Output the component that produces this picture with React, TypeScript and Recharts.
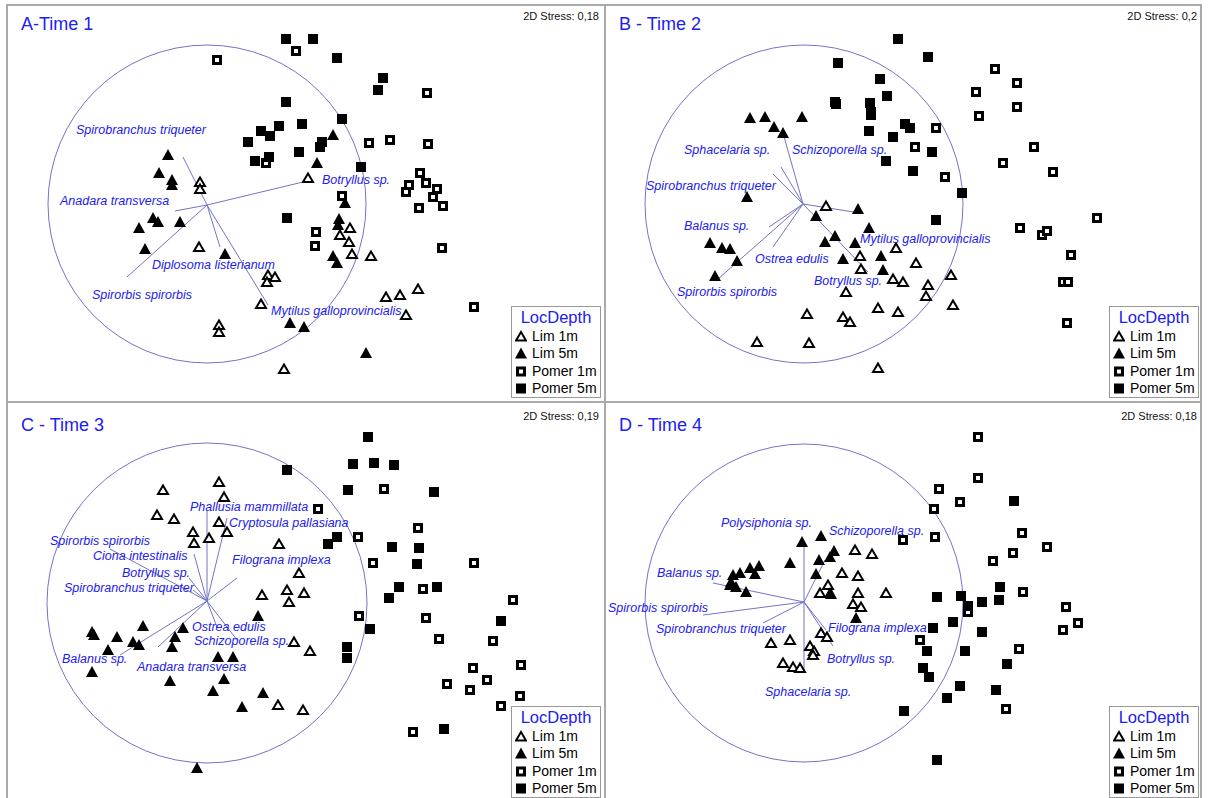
import { ScatterChart, Scatter, XAxis, YAxis, ReferenceLine, ReferenceDot } from "recharts";

type Pt = [number, number];

const groups = ["Lim 1m", "Lim 5m", "Pomer 1m", "Pomer 5m"];
const titles = ["A-Time 1", "B - Time 2", "C - Time 3", "D - Time 4"];
const stress = ["0,18", "0,2", "0,19", "0,18"];

// Time 1
const limOneA: Pt[] = [[200,182],[200,189],[199,247],[268,275],[275,277],[267,282],[261,304],[219,325],[219,332],[284,369],[308,178],[350,228],[340,235],[349,242],[352,254],[371,256],[386,297],[400,295],[418,289],[406,315]];
const limFiveA: Pt[] = [[168,155],[159,173],[172,180],[172,185],[153,218],[158,222],[180,222],[139,228],[145,249],[225,254],[290,323],[333,135],[317,163],[345,203],[339,219],[338,225],[333,256],[337,263],[304,327],[366,353]];
const pomerOneA: Pt[] = [[217,60],[296,51],[266,163],[427,93],[369,143],[390,140],[428,144],[420,173],[409,185],[426,183],[437,189],[406,192],[433,197],[443,206],[419,208],[342,196],[316,232],[315,246],[442,248],[474,307]];
const pomerFiveA: Pt[] = [[286,39],[313,39],[337,58],[383,78],[378,90],[286,102],[342,119],[279,126],[302,124],[261,131],[270,136],[248,142],[322,142],[320,147],[299,152],[255,161],[269,157],[361,167],[287,218]];
const vectorsA = [
  { sp: "Spirobranchus triqueter", x: 183, y: 157, lx: 76, ly: 130 },
  { sp: "Anadara transversa", x: 175, y: 211, lx: 60, ly: 201 },
  { sp: "Diplosoma listerianum", x: 220, y: 247, lx: 152, ly: 265 },
  { sp: "Spirorbis spirorbis", x: 127, y: 277, lx: 92, ly: 295 },
  { sp: "Mytilus galloprovincialis", x: 268, y: 305, lx: 271, ly: 311 },
  { sp: "Botryllus sp.", x: 303, y: 182, lx: 322, ly: 180 },
];

// Time 2
const limOneB: Pt[] = [[826,206],[896,248],[860,256],[916,263],[861,269],[893,279],[903,282],[928,285],[926,296],[846,292],[807,314],[843,317],[850,322],[878,308],[898,312],[757,342],[809,343],[878,368],[951,275],[953,305]];
const limFiveB: Pt[] = [[750,118],[765,117],[774,127],[783,133],[802,117],[747,197],[816,216],[858,209],[869,228],[835,236],[825,242],[855,243],[710,243],[722,248],[730,249],[737,261],[843,259],[881,256],[883,270],[715,276]];
const pomerOneB: Pt[] = [[915,147],[936,128],[945,177],[995,69],[976,92],[1017,83],[979,116],[1017,107],[1034,147],[1003,163],[1053,172],[1097,218],[1020,228],[1042,235],[1047,231],[1071,255],[1063,282],[1068,282],[1067,323]];
const pomerFiveB: Pt[] = [[898,39],[928,57],[838,63],[880,79],[887,96],[835,102],[836,104],[870,103],[871,112],[871,115],[869,131],[905,124],[910,128],[893,137],[886,161],[913,171],[932,152],[962,193],[936,220]];
const vectorsB = [
  { sp: "Sphacelaria sp.", x: 781, y: 167, lx: 684, ly: 150 },
  { sp: "Schizoporella sp.", x: 783, y: 133, lx: 792, ly: 150 },
  { sp: "Spirobranchus triqueter", x: 773, y: 174, lx: 646, ly: 186 },
  { sp: "Balanus sp.", x: 769, y: 227, lx: 684, ly: 226 },
  { sp: "Ostrea edulis", x: 773, y: 247, lx: 755, ly: 259 },
  { sp: "Spirorbis spirorbis", x: 718, y: 279, lx: 677, ly: 292 },
  { sp: "Mytilus galloprovincialis", x: 860, y: 213, lx: 860, ly: 239 },
  { sp: "Botryllus sp.", x: 868, y: 272, lx: 814, ly: 281 },
];

// Time 3
const limOneC: Pt[] = [[219,482],[163,490],[224,497],[157,515],[174,519],[219,522],[193,532],[194,543],[209,538],[227,532],[279,544],[299,573],[262,595],[287,590],[304,593],[289,602],[294,642],[310,651],[278,705],[303,710]];
const limFiveC: Pt[] = [[92,632],[94,635],[117,637],[143,626],[133,642],[139,645],[108,650],[92,672],[183,628],[175,637],[172,647],[258,616],[218,657],[233,657],[170,681],[224,679],[213,691],[263,693],[242,707],[197,768]];
const pomerOneC: Pt[] = [[318,509],[384,489],[358,537],[418,528],[373,563],[474,563],[423,589],[513,600],[359,616],[426,618],[439,639],[493,641],[521,665],[473,668],[487,680],[447,684],[470,690],[520,696],[501,706],[413,732]];
const pomerFiveC: Pt[] = [[287,470],[368,437],[353,464],[374,463],[394,465],[348,490],[434,492],[337,537],[328,544],[392,547],[419,548],[417,564],[399,587],[437,587],[389,598],[370,629],[501,621],[347,647],[347,658],[444,729]];
const vectorsC = [
  { sp: "Phallusia mammillata", x: 207, y: 510, lx: 190, ly: 507 },
  { sp: "Cryptosula pallasiana", x: 227, y: 518, lx: 229, ly: 523 },
  { sp: "Spirorbis spirorbis", x: 110, y: 549, lx: 50, ly: 541 },
  { sp: "Ciona intestinalis", x: 194, y: 554, lx: 93, ly: 556 },
  { sp: "Filograna implexa", x: 237, y: 578, lx: 232, ly: 560 },
  { sp: "Botryllus sp.", x: 189, y: 578, lx: 122, ly: 573 },
  { sp: "Spirobranchus triqueter", x: 193, y: 590, lx: 64, ly: 588 },
  { sp: "Ostrea edulis", x: 217, y: 627, lx: 192, ly: 627 },
  { sp: "Schizoporella sp.", x: 237, y: 640, lx: 194, ly: 641 },
  { sp: "Balanus sp.", x: 120, y: 655, lx: 62, ly: 659 },
  { sp: "Anadara transversa", x: 158, y: 647, lx: 137, ly: 667 },
];

// Time 4
const limOneD: Pt[] = [[855,550],[872,554],[842,573],[858,576],[828,585],[820,593],[858,593],[886,593],[853,604],[861,607],[821,633],[827,637],[771,643],[790,640],[810,646],[814,651],[813,655],[783,663],[793,667],[800,668]];
const limFiveD: Pt[] = [[821,536],[802,542],[834,551],[830,557],[819,560],[790,563],[759,566],[750,568],[755,574],[740,573],[733,575],[731,582],[736,587],[746,592],[816,574],[830,593],[831,594],[856,618],[730,585]];
const pomerOneD: Pt[] = [[978,437],[978,478],[939,489],[960,502],[934,509],[903,540],[935,537],[1022,533],[1047,547],[1013,553],[993,561],[1023,592],[1066,607],[1078,623],[1063,630],[968,612],[920,640],[1019,649],[1006,709]];
const pomerFiveD: Pt[] = [[1014,501],[1000,587],[999,600],[937,597],[961,596],[968,606],[982,602],[953,622],[933,628],[982,632],[927,651],[965,651],[1007,664],[923,668],[929,677],[960,686],[996,690],[947,698],[904,711],[937,760]];
const vectorsD = [
  { sp: "Polysiphonia sp.", x: 804, y: 542, lx: 721, ly: 523 },
  { sp: "Schizoporella sp.", x: 825, y: 560, lx: 829, ly: 531 },
  { sp: "Balanus sp.", x: 713, y: 583, lx: 657, ly: 573 },
  { sp: "Spirorbis spirorbis", x: 703, y: 615, lx: 608, ly: 608 },
  { sp: "Spirobranchus triqueter", x: 763, y: 623, lx: 656, ly: 629 },
  { sp: "Filograna implexa", x: 826, y: 630, lx: 828, ly: 628 },
  { sp: "Botryllus sp.", x: 833, y: 646, lx: 827, ly: 659 },
  { sp: "Sphacelaria sp.", x: 804, y: 673, lx: 765, ly: 692 },
];

// vector origins and correlation circles (centre x, centre y, radius)
const origins: Pt[] = [[207, 205], [803, 204], [207, 601], [804, 602]];
const circles = [[207, 204, 159], [804, 204, 159], [207, 603, 160], [804, 603, 159]];

const FONT = '"Liberation Sans", Arial, sans-serif';
const BLUE = "#2020f0";
const VEC = "#7373c8";
const W = 598;
const H = 397;

const toPts = (a: Pt[]) => a.map(([x, y]) => ({ x, y }));

const OpenTri = (p: any) => (
  <polygon points={`${p.cx},${p.cy - 4.5} ${p.cx + 5},${p.cy + 4} ${p.cx - 5},${p.cy + 4}`} fill="#fff" stroke="#000" strokeWidth={2} />
);
const FillTri = (p: any) => (
  <polygon points={`${p.cx},${p.cy - 6} ${p.cx + 6},${p.cy + 5} ${p.cx - 6},${p.cy + 5}`} fill="#000" />
);
const OpenSq = (p: any) => (
  <rect x={p.cx - 3.5} y={p.cy - 3.5} width={7} height={7} fill="#fff" stroke="#000" strokeWidth={3} />
);
const FillSq = (p: any) => <rect x={p.cx - 5} y={p.cy - 5} width={10} height={10} fill="#000" />;
const SpLabel = (p: any) => (
  <text x={p.cx} y={p.cy} dominantBaseline="central" fill={BLUE} fontSize={12.5} fontStyle="italic" fontFamily={FONT}>
    {p.payload.sp}
  </text>
);

const shapes = [OpenTri, FillTri, OpenSq, FillSq];

const panels = [
  { left: 7, top: 5, sets: [limOneA, limFiveA, pomerOneA, pomerFiveA], vectors: vectorsA },
  { left: 605, top: 5, sets: [limOneB, limFiveB, pomerOneB, pomerFiveB], vectors: vectorsB },
  { left: 7, top: 402, sets: [limOneC, limFiveC, pomerOneC, pomerFiveC], vectors: vectorsC },
  { left: 605, top: 402, sets: [limOneD, limFiveD, pomerOneD, pomerFiveD], vectors: vectorsD },
];

const LegendIcon = ({ i }: { i: number }) => {
  const Shape = shapes[i];
  return (
    <svg width={12} height={12} style={{ display: "block" }}>
      <Shape cx={6} cy={6.5} />
    </svg>
  );
};

const Panel = ({ i }: { i: number }) => {
  const p = panels[i];
  const [ox, oy] = origins[i];
  const [cx, cy, r] = circles[i];
  const lower = i > 1;
  return (
    <div style={{ position: "absolute", left: p.left, top: p.top, width: W, height: H }}>
      <ScatterChart width={W} height={H} margin={{ top: 0, right: 0, bottom: 0, left: 0 }}>
        <XAxis type="number" dataKey="x" domain={[p.left, p.left + W]} hide allowDataOverflow />
        <YAxis type="number" dataKey="y" domain={[p.top, p.top + H]} reversed hide allowDataOverflow />
        <ReferenceDot x={cx} y={cy} r={r} fill="none" stroke={VEC} strokeWidth={1} ifOverflow="visible" />
        {p.vectors.map((v) => (
          <ReferenceLine
            key={v.sp}
            segment={[{ x: ox, y: oy }, { x: v.x, y: v.y }]}
            stroke={VEC}
            strokeWidth={1}
            ifOverflow="visible"
          />
        ))}
        {p.sets.map((s, k) => (
          <Scatter key={groups[k]} name={groups[k]} data={toPts(s)} shape={shapes[k]} isAnimationActive={false} />
        ))}
        <Scatter
          name="species"
          data={p.vectors.map((v) => ({ x: v.lx, y: v.ly, sp: v.sp }))}
          shape={SpLabel}
          isAnimationActive={false}
        />
      </ScatterChart>
      <div style={{ position: "absolute", left: 14, top: lower ? 13 : 9, fontFamily: FONT, fontSize: 18, lineHeight: "20px", color: BLUE }}>
        {titles[i]}
      </div>
      <div style={{ position: "absolute", right: 6, top: lower ? 7 : 4, fontFamily: FONT, fontSize: 11, lineHeight: "14px", color: "#111" }}>
        2D Stress: {stress[i]}
      </div>
      <div
        style={{
          position: "absolute",
          right: 4,
          bottom: lower ? 1 : 4,
          width: 88,
          height: 90,
          border: "1px solid #999",
          background: "#fff",
          fontFamily: FONT,
        }}
      >
        <div style={{ color: BLUE, fontSize: 16.5, lineHeight: "20px", textAlign: "center" }}>LocDepth</div>
        {groups.map((g, k) => (
          <div key={g} style={{ display: "flex", alignItems: "center", height: 17.5, paddingLeft: 3 }}>
            <LegendIcon i={k} />
            <span style={{ fontSize: 14, marginLeft: 5, color: "#000" }}>{g}</span>
          </div>
        ))}
      </div>
    </div>
  );
};

export default function App() {
  return (
    <div style={{ position: "absolute", left: 0, top: 0, width: 1210, height: 798, background: "#fff", overflow: "hidden" }}>
      {[0, 1, 2, 3].map((i) => (
        <Panel key={i} i={i} />
      ))}
      <div style={{ position: "absolute", left: 6, top: 4, width: 1196, height: 794, border: "2px solid #aaa", borderBottom: "none", boxSizing: "border-box" }} />
      <div style={{ position: "absolute", left: 604, top: 4, width: 2, height: 794, background: "#aaa" }} />
      <div style={{ position: "absolute", left: 6, top: 401, width: 1196, height: 2, background: "#aaa" }} />
    </div>
  );
}
